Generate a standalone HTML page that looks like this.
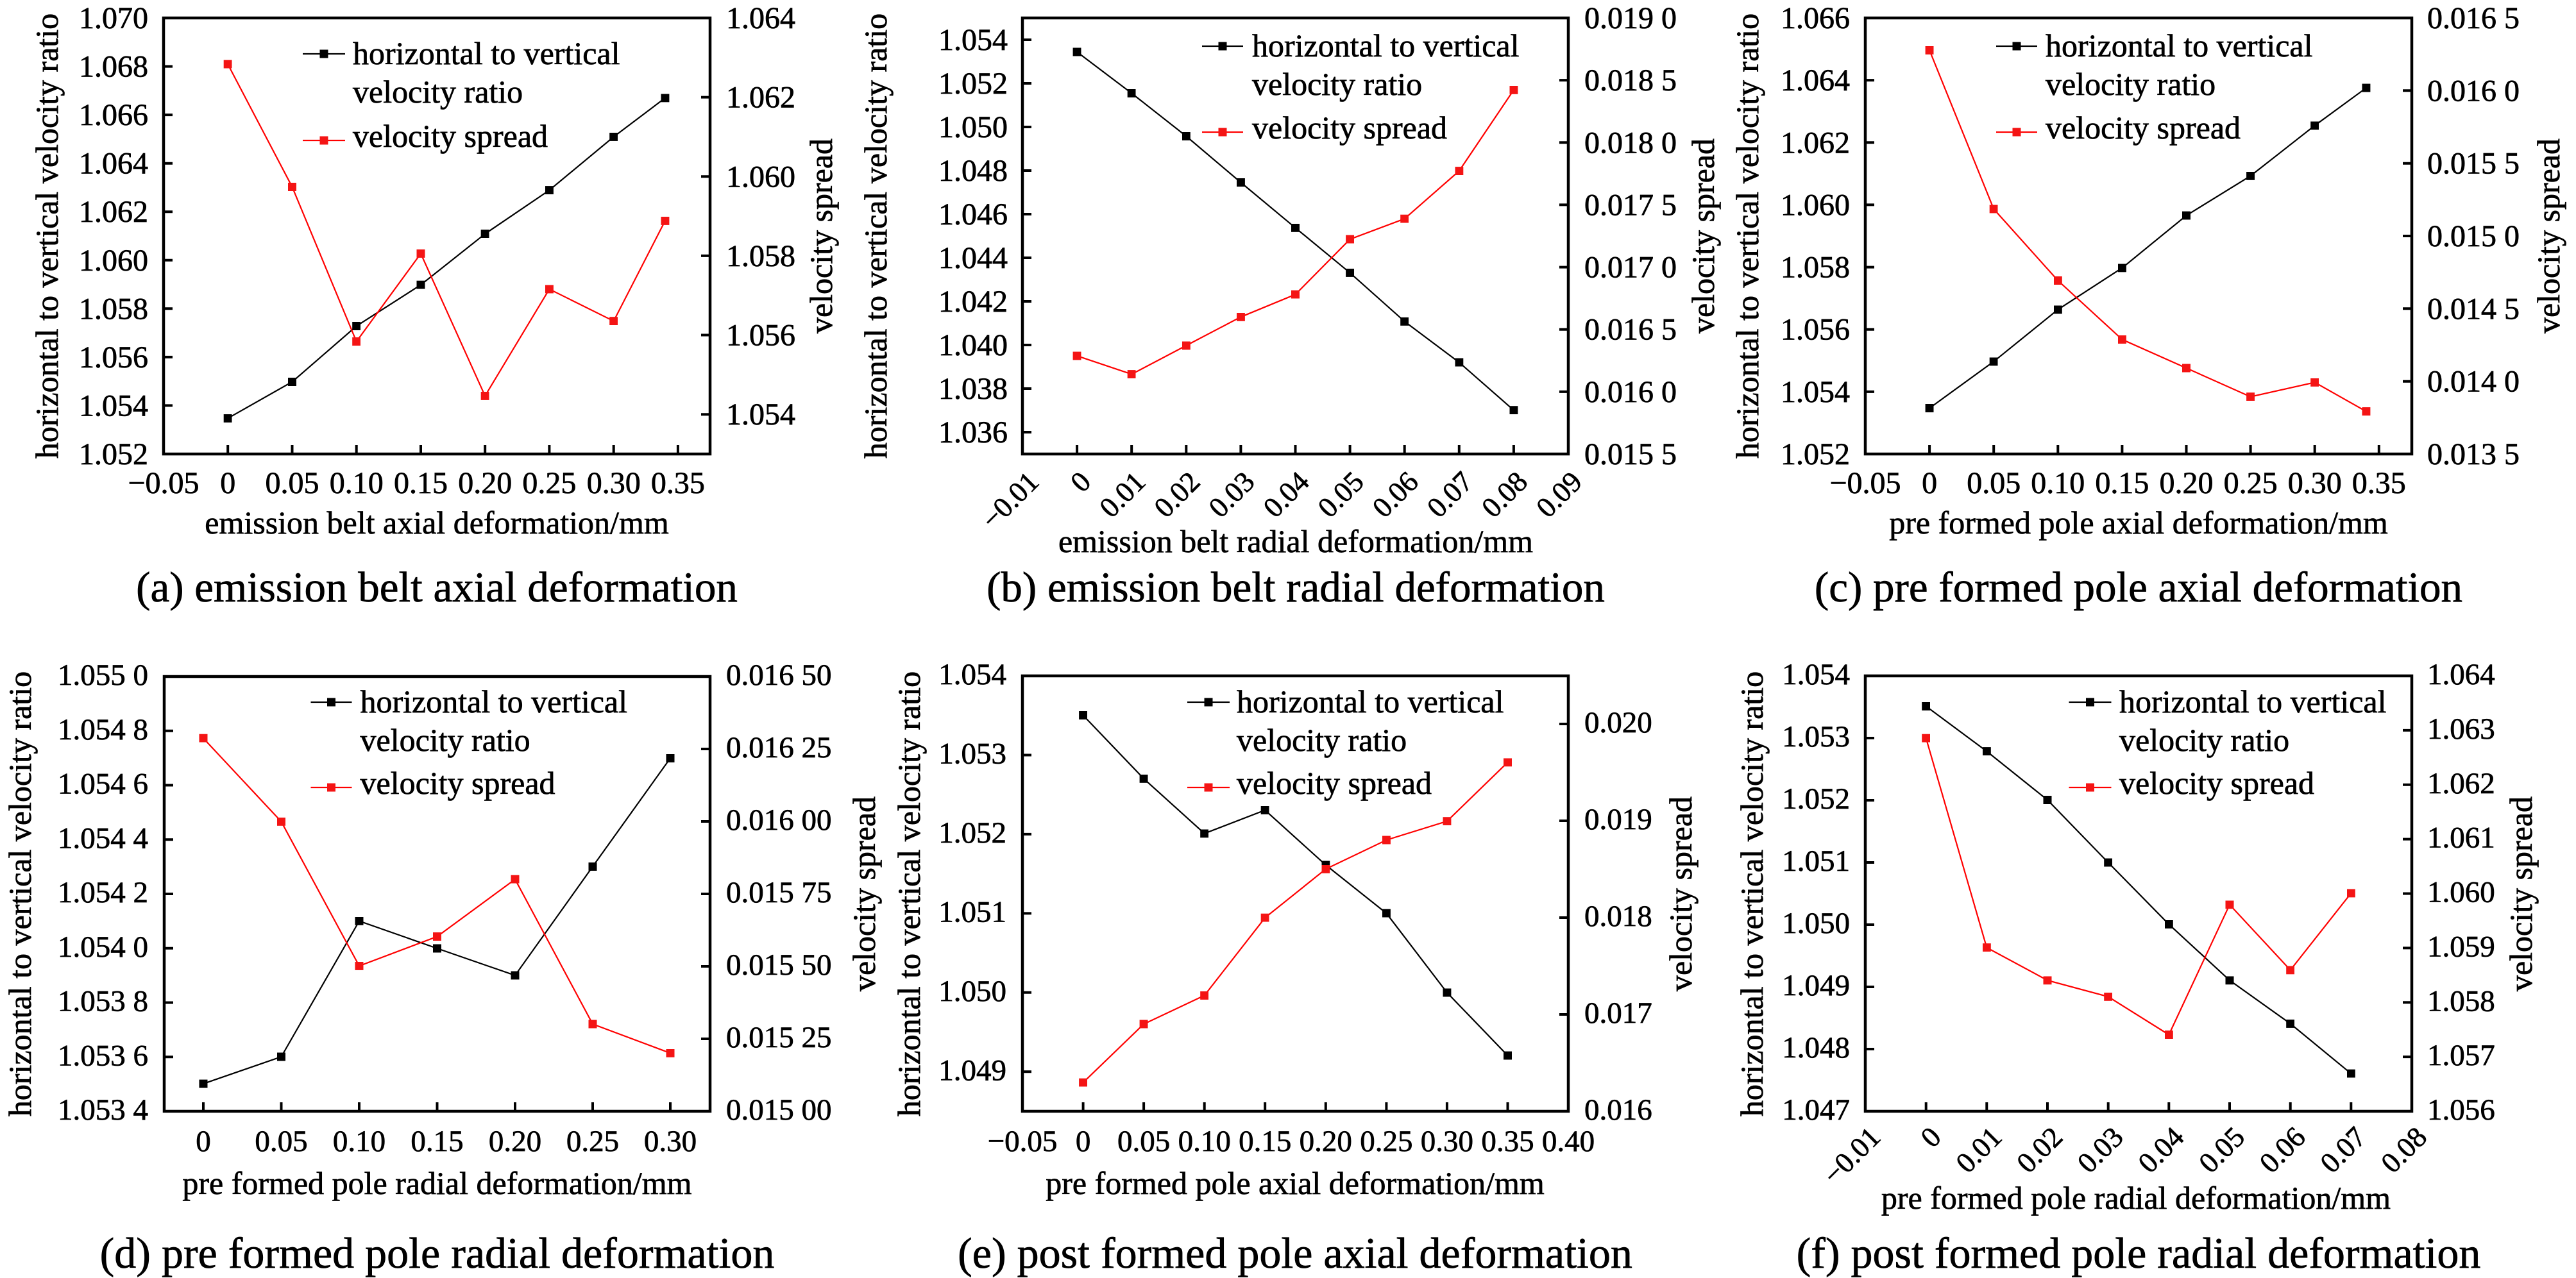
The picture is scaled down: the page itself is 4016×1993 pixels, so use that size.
<!DOCTYPE html>
<html><head><meta charset="utf-8"><style>
html,body{margin:0;padding:0;background:#fff;}
svg{display:block;}
text{font-family:"Liberation Serif","Times New Roman",serif;fill:#000;stroke:#000;stroke-width:0.7;}
.t{font-size:48px;}
.tb{font-size:47px;}
.ti{font-size:50px;}
.cap{font-size:67px;}
.capb{font-size:68px;}
.rl{font-size:45px;}
.fr{fill:none;stroke:#000;stroke-width:4.5;}
.tk{fill:none;stroke:#000;stroke-width:4;}
.lb{fill:none;stroke:#000;stroke-width:2.2;marker-start:url(#mb);marker-mid:url(#mb);marker-end:url(#mb);}
.lr{fill:none;stroke:#ff0000;stroke-width:2.2;marker-start:url(#mr);marker-mid:url(#mr);marker-end:url(#mr);}
.gb{fill:none;stroke:#000;stroke-width:2.2;marker-mid:url(#mb);}
.gr{fill:none;stroke:#ff0000;stroke-width:2.2;marker-mid:url(#mr);}
</style></head><body>
<svg width="4016" height="1993" viewBox="0 0 4016 1993" xmlns="http://www.w3.org/2000/svg">
<defs>
<marker id="mb" viewBox="0 0 13 13" refX="6.5" refY="6.5" markerWidth="13" markerHeight="13" markerUnits="userSpaceOnUse"><rect width="13" height="13" fill="#000"/></marker>
<marker id="mr" viewBox="0 0 13 13" refX="6.5" refY="6.5" markerWidth="13" markerHeight="13" markerUnits="userSpaceOnUse"><rect width="13" height="13" fill="#f41414"/></marker>
</defs>
<rect width="4016" height="1993" fill="#fff"/>

<!-- ===== Panel (a) ===== -->
<rect class="fr" x="255" y="28" width="852" height="680"/>
<path class="tk" d="M255,632.4h14M255,556.9h14M255,481.3h14M255,405.8h14M255,330.2h14M255,254.7h14M255,179.1h14M255,103.6h14
M1107,646.2h-14M1107,522.5h-14M1107,398.9h-14M1107,275.3h-14M1107,151.6h-14
M355.2,708v-14M455.5,708v-14M555.7,708v-14M656,708v-14M756.2,708v-14M856.4,708v-14M956.7,708v-14M1056.9,708v-14"/>
<g class="t" text-anchor="end">
<text x="231" y="44">1.070</text><text x="231" y="119.6">1.068</text><text x="231" y="195.1">1.066</text><text x="231" y="270.7">1.064</text><text x="231" y="346.2">1.062</text><text x="231" y="421.8">1.060</text><text x="231" y="497.3">1.058</text><text x="231" y="572.9">1.056</text><text x="231" y="648.4">1.054</text><text x="231" y="724">1.052</text>
</g>
<g class="t">
<text x="1132" y="44">1.064</text><text x="1132" y="167.6">1.062</text><text x="1132" y="291.3">1.060</text><text x="1132" y="414.9">1.058</text><text x="1132" y="538.5">1.056</text><text x="1132" y="662.2">1.054</text>
</g>
<g class="t" text-anchor="middle">
<text x="255" y="769">−0.05</text><text x="355.2" y="769">0</text><text x="455.5" y="769">0.05</text><text x="555.7" y="769">0.10</text><text x="656" y="769">0.15</text><text x="756.2" y="769">0.20</text><text x="856.4" y="769">0.25</text><text x="956.7" y="769">0.30</text><text x="1056.9" y="769">0.35</text>
</g>
<text class="ti" text-anchor="middle" transform="translate(90,368) rotate(-90)">horizontal to vertical velocity ratio</text>
<text class="ti" text-anchor="middle" transform="translate(1297,368) rotate(-90)">velocity spread</text>
<text class="ti" text-anchor="middle" x="681" y="832">emission belt axial deformation/mm</text>
<text class="cap" text-anchor="middle" x="681" y="938">(a) emission belt axial deformation</text>
<polyline class="lb" points="355.2,652.3 455.5,595.5 555.7,508.5 656,444.2 756.2,364.7 856.4,296.6 956.7,213.4 1036.9,152.8"/>
<polyline class="lr" points="355.2,100.1 455.5,291.5 555.7,532.6 656,395.4 756.2,617.4 856.4,450.9 956.7,500.7 1036.9,344.4"/>
<polyline class="gb" points="472,84 505,84 538,84"/>
<polyline class="gr" points="472,219 505,219 538,219"/>
<g class="ti"><text x="550" y="100">horizontal to vertical</text><text x="550" y="160">velocity ratio</text><text x="550" y="229">velocity spread</text></g>

<!-- ===== Panel (b) ===== -->
<rect class="fr" x="1594" y="28" width="851" height="680"/>
<path class="tk" d="M1594,62h14M1594,130h14M1594,198h14M1594,266h14M1594,334h14M1594,402h14M1594,470h14M1594,538h14M1594,606h14M1594,674h14
M2445,125.1h-14M2445,222.3h-14M2445,319.4h-14M2445,416.6h-14M2445,513.7h-14M2445,610.9h-14
M1679.1,708v-14M1764.2,708v-14M1849.3,708v-14M1934.4,708v-14M2019.5,708v-14M2104.6,708v-14M2189.7,708v-14M2274.8,708v-14M2359.9,708v-14"/>
<g class="t" text-anchor="end">
<text x="1571" y="78">1.054</text><text x="1571" y="146">1.052</text><text x="1571" y="214">1.050</text><text x="1571" y="282">1.048</text><text x="1571" y="350">1.046</text><text x="1571" y="418">1.044</text><text x="1571" y="486">1.042</text><text x="1571" y="554">1.040</text><text x="1571" y="622">1.038</text><text x="1571" y="690">1.036</text>
</g>
<g class="t">
<text x="2470" y="44">0.019 0</text><text x="2470" y="141.1">0.018 5</text><text x="2470" y="238.3">0.018 0</text><text x="2470" y="335.4">0.017 5</text><text x="2470" y="432.6">0.017 0</text><text x="2470" y="529.7">0.016 5</text><text x="2470" y="626.9">0.016 0</text><text x="2470" y="724">0.015 5</text>
</g>
<g class="rl" text-anchor="end">
<text transform="translate(1622,754) rotate(-45)">−0.01</text>
<text transform="translate(1703.1,754) rotate(-45)">0</text>
<text transform="translate(1788.2,754) rotate(-45)">0.01</text>
<text transform="translate(1873.3,754) rotate(-45)">0.02</text>
<text transform="translate(1958.4,754) rotate(-45)">0.03</text>
<text transform="translate(2043.5,754) rotate(-45)">0.04</text>
<text transform="translate(2128.6,754) rotate(-45)">0.05</text>
<text transform="translate(2213.7,754) rotate(-45)">0.06</text>
<text transform="translate(2298.8,754) rotate(-45)">0.07</text>
<text transform="translate(2383.9,754) rotate(-45)">0.08</text>
<text transform="translate(2469,754) rotate(-45)">0.09</text>
</g>
<text class="ti" text-anchor="middle" transform="translate(1382,368) rotate(-90)">horizontal to vertical velocity ratio</text>
<text class="ti" text-anchor="middle" transform="translate(2672,368) rotate(-90)">velocity spread</text>
<text class="ti" text-anchor="middle" x="2020" y="861">emission belt radial deformation/mm</text>
<text class="cap" text-anchor="middle" x="2020" y="938">(b) emission belt radial deformation</text>
<polyline class="lb" points="1679.1,81 1764.2,145.4 1849.3,212.4 1934.4,284.5 2019.5,355.3 2104.6,425.4 2189.7,501.3 2274.8,565.1 2359.9,639.7"/>
<polyline class="lr" points="1679.1,554.9 1764.2,583.6 1849.3,538.9 1934.4,494.3 2019.5,459.2 2104.6,373.1 2189.7,341.2 2274.8,266.6 2359.9,140.3"/>
<polyline class="gb" points="1874,72 1906,72 1938,72"/>
<polyline class="gr" points="1874,206 1906,206 1938,206"/>
<g class="ti"><text x="1952" y="88">horizontal to vertical</text><text x="1952" y="148">velocity ratio</text><text x="1952" y="216">velocity spread</text></g>

<!-- ===== Panel (c) ===== -->
<rect class="fr" x="2908" y="28" width="852" height="680"/>
<path class="tk" d="M2908,125.1h14M2908,222.3h14M2908,319.4h14M2908,416.6h14M2908,513.7h14M2908,610.9h14
M3760,141.3h-14M3760,254.7h-14M3760,368h-14M3760,481.3h-14M3760,594.7h-14
M3008.1,708v-14M3108.2,708v-14M3208.3,708v-14M3308.4,708v-14M3408.5,708v-14M3508.6,708v-14M3608.7,708v-14M3708.8,708v-14"/>
<g class="t" text-anchor="end">
<text x="2884" y="44">1.066</text><text x="2884" y="141.1">1.064</text><text x="2884" y="238.3">1.062</text><text x="2884" y="335.4">1.060</text><text x="2884" y="432.6">1.058</text><text x="2884" y="529.7">1.056</text><text x="2884" y="626.9">1.054</text><text x="2884" y="724">1.052</text>
</g>
<g class="t">
<text x="3784" y="44">0.016 5</text><text x="3784" y="157.3">0.016 0</text><text x="3784" y="270.7">0.015 5</text><text x="3784" y="384">0.015 0</text><text x="3784" y="497.3">0.014 5</text><text x="3784" y="610.7">0.014 0</text><text x="3784" y="724">0.013 5</text>
</g>
<g class="t" text-anchor="middle">
<text x="2908" y="769">−0.05</text><text x="3008.1" y="769">0</text><text x="3108.2" y="769">0.05</text><text x="3208.3" y="769">0.10</text><text x="3308.4" y="769">0.15</text><text x="3408.5" y="769">0.20</text><text x="3508.6" y="769">0.25</text><text x="3608.7" y="769">0.30</text><text x="3708.8" y="769">0.35</text>
</g>
<text class="ti" text-anchor="middle" transform="translate(2741,368) rotate(-90)">horizontal to vertical velocity ratio</text>
<text class="ti" text-anchor="middle" transform="translate(3990,368) rotate(-90)">velocity spread</text>
<text class="ti" text-anchor="middle" x="3334" y="832">pre formed pole axial deformation/mm</text>
<text class="cap" text-anchor="middle" x="3334" y="938">(c) pre formed pole axial deformation</text>
<polyline class="lb" points="3008.1,636.5 3108.2,563.8 3208.3,482.8 3308.4,417.8 3408.5,336.1 3508.6,274.3 3608.7,195.8 3688.9,137.1"/>
<polyline class="lr" points="3008.1,78.4 3108.2,325.9 3208.3,437.5 3308.4,529.4 3408.5,574 3508.6,618.7 3608.7,596.3 3688.9,641.6"/>
<polyline class="gb" points="3112,72 3144,72 3176,72"/>
<polyline class="gr" points="3112,206 3144,206 3176,206"/>
<g class="ti"><text x="3189" y="88">horizontal to vertical</text><text x="3189" y="148">velocity ratio</text><text x="3189" y="216">velocity spread</text></g>

<!-- ===== Panel (d) ===== -->
<rect class="fr" x="256" y="1055" width="851" height="678"/>
<path class="tk" d="M256,1139.75h14M256,1224.5h14M256,1309.25h14M256,1394h14M256,1478.75h14M256,1563.5h14M256,1648.25h14
M1107,1168h-14M1107,1281h-14M1107,1394h-14M1107,1507h-14M1107,1620h-14
M317,1733v-14M438.5,1733v-14M560,1733v-14M681.5,1733v-14M803,1733v-14M924,1733v-14M1045,1733v-14"/>
<g class="tb" text-anchor="end">
<text x="231" y="1068">1.055 0</text><text x="231" y="1152.75">1.054 8</text><text x="231" y="1237.5">1.054 6</text><text x="231" y="1322.25">1.054 4</text><text x="231" y="1407">1.054 2</text><text x="231" y="1491.75">1.054 0</text><text x="231" y="1576.5">1.053 8</text><text x="231" y="1661.25">1.053 6</text><text x="231" y="1746">1.053 4</text>
</g>
<g class="tb">
<text x="1132" y="1068">0.016 50</text><text x="1132" y="1181">0.016 25</text><text x="1132" y="1294">0.016 00</text><text x="1132" y="1407">0.015 75</text><text x="1132" y="1520">0.015 50</text><text x="1132" y="1633">0.015 25</text><text x="1132" y="1746">0.015 00</text>
</g>
<g class="tb" text-anchor="middle">
<text x="317" y="1795">0</text><text x="438.5" y="1795">0.05</text><text x="560" y="1795">0.10</text><text x="681.5" y="1795">0.15</text><text x="803" y="1795">0.20</text><text x="924" y="1795">0.25</text><text x="1045" y="1795">0.30</text>
</g>
<text class="ti" text-anchor="middle" transform="translate(48,1394) rotate(-90)">horizontal to vertical velocity ratio</text>
<text class="ti" text-anchor="middle" transform="translate(1364,1394) rotate(-90)">velocity spread</text>
<text class="ti" text-anchor="middle" x="681.5" y="1862">pre formed pole radial deformation/mm</text>
<text class="capb" text-anchor="middle" x="681.5" y="1977">(d) pre formed pole radial deformation</text>
<polyline class="lb" points="317,1690.1 438.5,1648 560,1436.3 681.5,1479 803,1521.1 924,1351.4 1045,1182.4"/>
<polyline class="lr" points="317,1151.2 438.5,1281.3 560,1506.4 681.5,1460.5 803,1371.2 924,1597 1045,1642.3"/>
<polyline class="gb" points="484.5,1095 516.5,1095 548.5,1095"/>
<polyline class="gr" points="484.5,1228 516.5,1228 548.5,1228"/>
<g class="ti"><text x="561.5" y="1111">horizontal to vertical</text><text x="561.5" y="1171">velocity ratio</text><text x="561.5" y="1238">velocity spread</text></g>

<!-- ===== Panel (e) ===== -->
<rect class="fr" x="1594" y="1054" width="851" height="679"/>
<path class="tk" d="M1594,1177.5h14M1594,1300.9h14M1594,1424.4h14M1594,1547.8h14M1594,1671.3h14
M2445,1129h-14M2445,1280h-14M2445,1431h-14M2445,1582h-14
M1688.6,1733v-14M1783.1,1733v-14M1877.7,1733v-14M1972.2,1733v-14M2066.8,1733v-14M2161.4,1733v-14M2255.9,1733v-14M2350.5,1733v-14"/>
<g class="tb" text-anchor="end">
<text x="1569" y="1067">1.054</text><text x="1569" y="1190.5">1.053</text><text x="1569" y="1313.9">1.052</text><text x="1569" y="1437.4">1.051</text><text x="1569" y="1560.8">1.050</text><text x="1569" y="1684.3">1.049</text>
</g>
<g class="tb">
<text x="2470" y="1142">0.020</text><text x="2470" y="1293">0.019</text><text x="2470" y="1444">0.018</text><text x="2470" y="1595">0.017</text><text x="2470" y="1746">0.016</text>
</g>
<g class="tb" text-anchor="middle">
<text x="1594" y="1795">−0.05</text><text x="1688.6" y="1795">0</text><text x="1783.1" y="1795">0.05</text><text x="1877.7" y="1795">0.10</text><text x="1972.2" y="1795">0.15</text><text x="2066.8" y="1795">0.20</text><text x="2161.4" y="1795">0.25</text><text x="2255.9" y="1795">0.30</text><text x="2350.5" y="1795">0.35</text><text x="2445" y="1795">0.40</text>
</g>
<text class="ti" text-anchor="middle" transform="translate(1434,1394) rotate(-90)">horizontal to vertical velocity ratio</text>
<text class="ti" text-anchor="middle" transform="translate(2637,1394) rotate(-90)">velocity spread</text>
<text class="ti" text-anchor="middle" x="2019" y="1862">pre formed pole axial deformation/mm</text>
<text class="capb" text-anchor="middle" x="2019" y="1977">(e) post formed pole axial deformation</text>
<polyline class="lb" points="1688.6,1115.5 1783.1,1214.3 1877.7,1299.8 1972.2,1263.4 2066.8,1348.9 2161.4,1424.2 2255.9,1547.9 2350.5,1646.1"/>
<polyline class="lr" points="1688.6,1688.2 1783.1,1597 1877.7,1552.4 1972.2,1431.2 2066.8,1355.3 2161.4,1310 2255.9,1280.7 2350.5,1188.8"/>
<polyline class="gb" points="1851,1095 1884,1095 1917,1095"/>
<polyline class="gr" points="1851,1228 1884,1228 1917,1228"/>
<g class="ti"><text x="1928" y="1111">horizontal to vertical</text><text x="1928" y="1171">velocity ratio</text><text x="1928" y="1238">velocity spread</text></g>

<!-- ===== Panel (f) ===== -->
<rect class="fr" x="2908" y="1054" width="852" height="679"/>
<path class="tk" d="M2908,1151h14M2908,1248h14M2908,1345h14M2908,1442h14M2908,1539h14M2908,1636h14
M3760,1138.9h-14M3760,1223.75h-14M3760,1308.6h-14M3760,1393.5h-14M3760,1478.4h-14M3760,1563.25h-14M3760,1648.1h-14
M3002.7,1733v-14M3097.3,1733v-14M3192,1733v-14M3286.7,1733v-14M3381.3,1733v-14M3476,1733v-14M3570.7,1733v-14M3665.3,1733v-14"/>
<g class="tb" text-anchor="end">
<text x="2884" y="1067">1.054</text><text x="2884" y="1164">1.053</text><text x="2884" y="1261">1.052</text><text x="2884" y="1358">1.051</text><text x="2884" y="1455">1.050</text><text x="2884" y="1552">1.049</text><text x="2884" y="1649">1.048</text><text x="2884" y="1746">1.047</text>
</g>
<g class="tb">
<text x="3784" y="1067">1.064</text><text x="3784" y="1151.9">1.063</text><text x="3784" y="1236.75">1.062</text><text x="3784" y="1321.6">1.061</text><text x="3784" y="1406.5">1.060</text><text x="3784" y="1491.4">1.059</text><text x="3784" y="1576.25">1.058</text><text x="3784" y="1661.1">1.057</text><text x="3784" y="1746">1.056</text>
</g>
<g class="rl" text-anchor="end">
<text transform="translate(2934,1776) rotate(-45)">−0.01</text>
<text transform="translate(3028.7,1776) rotate(-45)">0</text>
<text transform="translate(3123.3,1776) rotate(-45)">0.01</text>
<text transform="translate(3218,1776) rotate(-45)">0.02</text>
<text transform="translate(3312.7,1776) rotate(-45)">0.03</text>
<text transform="translate(3407.3,1776) rotate(-45)">0.04</text>
<text transform="translate(3502,1776) rotate(-45)">0.05</text>
<text transform="translate(3596.7,1776) rotate(-45)">0.06</text>
<text transform="translate(3691.3,1776) rotate(-45)">0.07</text>
<text transform="translate(3786,1776) rotate(-45)">0.08</text>
</g>
<text class="ti" text-anchor="middle" transform="translate(2748,1394) rotate(-90)">horizontal to vertical velocity ratio</text>
<text class="ti" text-anchor="middle" transform="translate(3947,1394) rotate(-90)">velocity spread</text>
<text class="ti" text-anchor="middle" x="3330" y="1885">pre formed pole radial deformation/mm</text>
<text class="capb" text-anchor="middle" x="3334" y="1977">(f) post formed pole radial deformation</text>
<polyline class="lb" points="3002.7,1101.4 3097.3,1171.6 3192,1247.5 3286.7,1345.1 3381.3,1441.4 3476,1528.8 3570.7,1596.4 3665.3,1674.2"/>
<polyline class="lr" points="3002.7,1151.2 3097.3,1477.7 3192,1528.8 3286.7,1554.3 3381.3,1613.6 3476,1410.8 3570.7,1512.8 3665.3,1392.9"/>
<polyline class="gb" points="3225.5,1095 3258.5,1095 3291.5,1095"/>
<polyline class="gr" points="3225.5,1228 3258.5,1228 3291.5,1228"/>
<g class="ti"><text x="3304" y="1111">horizontal to vertical</text><text x="3304" y="1171">velocity ratio</text><text x="3304" y="1238">velocity spread</text></g>
</svg>
</body></html>
